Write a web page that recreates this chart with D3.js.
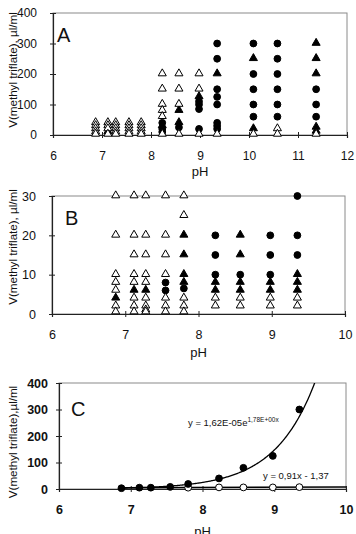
<!DOCTYPE html>
<html>
<head>
<meta charset="utf-8">
<script src="https://cdn.jsdelivr.net/npm/d3@7"></script>
<style>
  body { margin: 0; background: #fff; }
  svg { display: block; font-family: "Liberation Sans", Arial, sans-serif; }
</style>
</head>
<body>
<div id="chart"></div>
<script>
// pH columns used in the experiments
let phA = [6.87, 7.12, 7.28, 7.55, 7.8, 8.23, 8.57, 8.98, 9.35, 10.09, 10.58, 11.37];

// panel A : [pH, V]
let openTriA = [
  [6.87, 40], [6.87, 30], [6.87, 20], [6.87, 10], [6.87, 2],
  [7.12, 40], [7.12, 30], [7.12, 20], [7.12, 2],
  [7.28, 40], [7.28, 30], [7.28, 20], [7.28, 10], [7.28, 2],
  [7.55, 40], [7.55, 30], [7.55, 20], [7.55, 10], [7.55, 2],
  [7.8, 40], [7.8, 30], [7.8, 20], [7.8, 10], [7.8, 2],
  [8.23, 200], [8.23, 150], [8.23, 100], [8.23, 80], [8.23, 60], [8.23, 2],
  [8.57, 200], [8.57, 150], [8.57, 100], [8.57, 2],
  [8.98, 200], [8.98, 150], [8.98, 2],
  [9.35, 2], [10.09, 2], [10.58, 20], [10.58, 2], [11.37, 2]
];
let filledTriA = [
  [7.12, 10], [8.23, 30], [8.57, 80], [8.57, 40], [8.98, 125], [9.35, 200],
  [10.09, 250], [10.09, 20], [11.37, 300], [11.37, 250], [11.37, 200], [11.37, 25], [11.37, 12]
];
let filledCircA = [
  [8.23, 40], [8.23, 20], [8.23, 10], [8.57, 25],
  [8.98, 110], [8.98, 100], [8.98, 85], [8.98, 20],
  [9.35, 300], [9.35, 250], [9.35, 150], [9.35, 125], [9.35, 100], [9.35, 40], [9.35, 30], [9.35, 20],
  [10.09, 300], [10.09, 200], [10.09, 150], [10.09, 100], [10.09, 60],
  [10.58, 300], [10.58, 250], [10.58, 200], [10.58, 150], [10.58, 100], [10.58, 60],
  [11.37, 150], [11.37, 100], [11.37, 60]
];

// panel B : [pH, V]
let openTriB = [
  [6.87, 30], [6.87, 20], [6.87, 10], [6.87, 8], [6.87, 6], [6.87, 2], [6.87, 0.5],
  [7.12, 30], [7.12, 20], [7.12, 15], [7.12, 10], [7.12, 8], [7.12, 4], [7.12, 2], [7.12, 0.5],
  [7.28, 30], [7.28, 20], [7.28, 15], [7.28, 10], [7.28, 8], [7.28, 4], [7.28, 2], [7.28, 1], [7.28, 0.5],
  [7.55, 30], [7.55, 20], [7.55, 15], [7.55, 10], [7.55, 4], [7.55, 2], [7.55, 0.5],
  [7.8, 30], [7.8, 25], [7.8, 4], [7.8, 2], [7.8, 0.5],
  [8.23, 4], [8.23, 2], [8.57, 4], [8.57, 2], [8.98, 4], [8.98, 2], [9.35, 4], [9.35, 2]
];
let filledTriB = [
  [6.87, 4], [7.12, 6], [7.28, 6],
  [7.8, 20], [7.8, 15], [7.8, 10], [7.8, 8],
  [8.23, 8], [8.23, 6],
  [8.57, 20], [8.57, 15], [8.57, 8], [8.57, 6],
  [8.98, 8], [8.98, 6],
  [9.35, 10], [9.35, 8], [9.35, 6]
];
let filledCircB = [
  [7.55, 8], [7.55, 6], [7.8, 6.5],
  [8.23, 20], [8.23, 15], [8.23, 10],
  [8.57, 10],
  [8.98, 20], [8.98, 15], [8.98, 10],
  [9.35, 30], [9.35, 20], [9.35, 15]
];

// panel C
let phC = [6.87, 7.12, 7.28, 7.55, 7.8, 8.23, 8.57, 8.98, 9.35];
let filledC = [3, 5, 5, 8, 19, 40, 80, 125, 300];
let phOpenC = [7.8, 8.23, 8.57, 8.98, 9.35];
let openC = [5, 6, 6, 6, 7];
// fits printed on the chart
let expFit = { a: 1.62e-5, b: 1.78 };
let linFit = { m: 0.91, c: -1.37 };

let w = 356, h = 534;

let viz = d3.select("#chart")
  .append("svg")
  .attr("width", w)
  .attr("height", h)
  .style("background-color", "white");

function makePanel(p) {
  let xScale = d3.scaleLinear().domain(p.xDom).range([p.x0, p.x1]);
  let yScale = d3.scaleLinear().domain(p.yDom).range([p.y1, p.y0]);
  let g = viz.append("g");

  // grey frame (top and right)
  g.append("rect")
    .attr("x", p.x0).attr("y", p.y0)
    .attr("width", p.x1 - p.x0).attr("height", p.y1 - p.y0)
    .attr("fill", "none").attr("stroke", "#8a8a8a").attr("stroke-width", 1);

  let xAxis = d3.axisBottom(xScale).tickValues(p.xTicks).tickFormat(d3.format("d"))
    .tickSize(3).tickPadding(13);
  let xAxisGroup = g.append("g").attr("class", "xaxis")
    .attr("transform", "translate(0," + p.y1 + ")")
    .call(xAxis);

  let yAxis = d3.axisLeft(yScale).tickValues(p.yTicks).tickFormat(d3.format("d"))
    .tickSize(3).tickPadding(p.yPad);
  let yAxisGroup = g.append("g").attr("class", "yaxis")
    .attr("transform", "translate(" + p.x0 + ",0)")
    .call(yAxis);

  [xAxisGroup, yAxisGroup].forEach(function(ax) {
    ax.select(".domain").attr("stroke", "#222").attr("stroke-width", 1.2);
    ax.selectAll(".tick line").attr("stroke", "#222");
    ax.selectAll(".tick text")
      .attr("fill", "#111")
      .style("font-size", p.tickFont + "px")
      .style("font-weight", p.tickWeight)
      .style("font-family", "Liberation Sans, Arial, sans-serif");
  });
  xAxisGroup.selectAll(".tick line").attr("y1", -3).attr("y2", 3);
  yAxisGroup.selectAll(".tick line").attr("x1", -3).attr("x2", 3);

  // axis titles
  g.append("text")
    .attr("x", (p.x0 + p.x1) / 2)
    .attr("y", p.y1 + p.phGap)
    .attr("text-anchor", "middle")
    .style("font-size", "13px")
    .attr("fill", "#111")
    .text("pH");

  g.append("text")
    .attr("transform", "translate(" + 13 + "," + p.titleY + ") rotate(-90)")
    .attr("text-anchor", "middle")
    .attr("dy", "0.35em")
    .style("font-size", "11.6px")
    .attr("fill", "#111")
    .text(p.title);

  g.append("text")
    .attr("x", p.letterX).attr("y", p.letterY)
    .style("font-size", "20px")
    .attr("fill", "#111")
    .text(p.letter);

  return { g: g, x: xScale, y: yScale };
}

let tri = d3.symbol().type(d3.symbolTriangle).size(28);

function drawTriangles(panel, data, filled) {
  panel.g.selectAll(null).data(data).enter()
    .append("path")
    .attr("d", tri)
    .attr("transform", function(d) { return "translate(" + panel.x(d[0]) + "," + (panel.y(d[1]) - 0.5) + ")"; })
    .attr("fill", filled ? "black" : "white")
    .attr("stroke", "black")
    .attr("stroke-width", 1);
}

function drawCircles(panel, data, filled) {
  panel.g.selectAll(null).data(data).enter()
    .append("circle")
    .attr("cx", function(d) { return panel.x(d[0]); })
    .attr("cy", function(d) { return panel.y(d[1]); })
    .attr("r", 3.4)
    .attr("fill", filled ? "black" : "white")
    .attr("stroke", "black")
    .attr("stroke-width", 1);
}

// ---- panel A
let A = makePanel({
  x0: 53, x1: 347, y0: 13, y1: 135, xDom: [6, 12], yDom: [0, 400],
  xTicks: [6, 7, 8, 9, 10, 11, 12], yTicks: [0, 100, 200, 300, 400],
  yPad: 13, tickFont: 12, tickWeight: "normal", phGap: 41, titleY: 70,
  title: "V(methyl triflate), \u00b5l/ml", letter: "A", letterX: 57, letterY: 42
});
drawCircles(A, filledCircA, true);
drawTriangles(A, filledTriA, true);
drawTriangles(A, openTriA, false);

// ---- panel B
let B = makePanel({
  x0: 52, x1: 345, y0: 196, y1: 314, xDom: [6, 10], yDom: [0, 30],
  xTicks: [6, 7, 8, 9, 10], yTicks: [0, 10, 20, 30],
  yPad: 13, tickFont: 12.5, tickWeight: "normal", phGap: 43, titleY: 247,
  title: "V(methyl triflate), \u00b5l/ml", letter: "B", letterX: 65, letterY: 225
});
drawCircles(B, filledCircB, true);
drawTriangles(B, filledTriB, true);
drawTriangles(B, openTriB, false);

// ---- panel C
let C = makePanel({
  x0: 59, x1: 346, y0: 383, y1: 489, xDom: [6, 10], yDom: [0, 400],
  xTicks: [6, 7, 8, 9, 10], yTicks: [0, 100, 200, 300, 400],
  yPad: 8, tickFont: 12.5, tickWeight: "bold", phGap: 47, titleY: 442,
  title: "V(methyl triflate),\u00b5l/ml", letter: "C", letterX: 71, letterY: 416
});

// fitted curves, clipped to plot area
viz.append("clipPath").attr("id", "clipC")
  .append("rect").attr("x", 59).attr("y", 383).attr("width", 287).attr("height", 106);

let expX = d3.range(6.87, 9.8, 0.01);
let expLine = d3.line()
  .x(function(d) { return C.x(d); })
  .y(function(d) { return C.y(expFit.a * Math.exp(expFit.b * d)); });
C.g.append("path")
  .datum(expX)
  .attr("d", expLine)
  .attr("fill", "none").attr("stroke", "black").attr("stroke-width", 1.3)
  .attr("clip-path", "url(#clipC)");

let linX = [6.87, 10];
let linLine = d3.line()
  .x(function(d) { return C.x(d); })
  .y(function(d) { return C.y(linFit.m * d + linFit.c); });
C.g.append("path")
  .datum(linX)
  .attr("d", linLine)
  .attr("fill", "none").attr("stroke", "black").attr("stroke-width", 1.6);

drawCircles(C, phOpenC.map(function(p, i) { return [p, openC[i]]; }), false);
drawCircles(C, phC.map(function(p, i) { return [p, filledC[i]]; }), true);

// fit equations
let eq1 = C.g.append("text")
  .attr("x", 188).attr("y", 426)
  .style("font-size", "9.5px")
  .attr("fill", "#111");
eq1.append("tspan").text("y = 1,62E-05e");
eq1.append("tspan").attr("dy", -4).style("font-size", "6.5px").text("1,78E+00x");

C.g.append("text")
  .attr("x", 263).attr("y", 479)
  .style("font-size", "9.5px")
  .attr("fill", "#111")
  .text("y = 0,91x - 1,37");
</script>
</body>
</html>
